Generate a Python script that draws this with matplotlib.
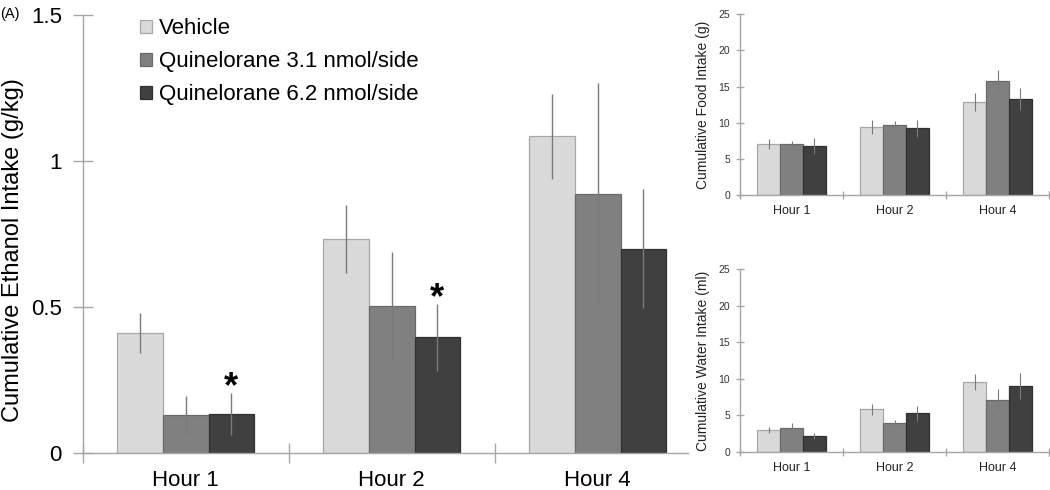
import matplotlib
matplotlib.use("Agg")
import matplotlib.pyplot as plt
from matplotlib.patches import Patch
import numpy as np

plt.rcParams['font.family'] = ['Liberation Sans', 'DejaVu Sans']

groups = ["Hour 1", "Hour 2", "Hour 4"]
series_names = ["Vehicle", "Quinelorane 3.1 nmol/side", "Quinelorane 6.2 nmol/side"]

ethanol_vehicle = [0.41, 0.733, 1.084]
ethanol_vehicle_err = [0.068, 0.117, 0.147]
ethanol_q31 = [0.13, 0.502, 0.886]
ethanol_q31_err = [0.065, 0.187, 0.38]
ethanol_q62 = [0.134, 0.396, 0.70]
ethanol_q62_err = [0.072, 0.114, 0.205]
ethanol_sig_q62 = [True, True, False]

food_vehicle = [7.08, 9.42, 12.87]
food_vehicle_err = [0.69, 0.92, 1.3]
food_q31 = [7.12, 9.65, 15.72]
food_q31_err = [0.4, 0.55, 1.5]
food_q62 = [6.80, 9.24, 13.24]
food_q62_err = [1.08, 1.15, 1.5]

water_vehicle = [3.01, 5.84, 9.58]
water_vehicle_err = [0.45, 0.73, 1.07]
water_q31 = [3.33, 3.97, 7.16]
water_q31_err = [0.6, 0.47, 1.46]
water_q62 = [2.24, 5.29, 9.03]
water_q62_err = [0.4, 1.07, 1.8]

colors = ['#d9d9d9', '#808080', '#404040']
edges = ['#a8a8a8', '#6a6a6a', '#303030']
axcol = '#a6a6a6'
bw = 0.222

fig = plt.figure(figsize=(10.5, 4.9), dpi=100)


def draw_bars(ax, vals, errs, elw):
    x = np.arange(len(groups))
    conts = []
    for i, (v, e) in enumerate(zip(vals, errs)):
        c = ax.bar(x + (i - 1) * bw, v, bw, color=colors[i], edgecolor=edges[i],
                   linewidth=0.9, zorder=2)
        ax.errorbar(x + (i - 1) * bw, v, yerr=e, fmt='none', ecolor='#7a7a7a',
                    elinewidth=elw, capsize=0, zorder=3)
        conts.append(c)
    return conts


def style_axes(ax, ticklen, right_tick):
    for s in ['top', 'right']:
        ax.spines[s].set_visible(False)
    for s in ['left', 'bottom']:
        ax.spines[s].set_color(axcol)
        ax.spines[s].set_linewidth(1.0)
    ax.set_xlim(-0.5, 2.5)
    seps = [-0.5, 0.5, 1.5] + ([2.5] if right_tick else [])
    ax.set_xticks(seps)
    ax.set_xticklabels([''] * len(seps))
    ax.set_xticks(np.arange(len(groups)), minor=True)
    ax.tick_params(axis='x', which='major', direction='inout', length=ticklen,
                   color=axcol, width=1.0)
    ax.tick_params(axis='y', which='major', direction='inout', length=ticklen,
                   color=axcol, width=1.0)


# ---------------- main panel ----------------
ax = fig.add_axes([82.7 / 1050, 1 - 453 / 490, 618 / 1050, 438 / 490])
draw_bars(ax, [ethanol_vehicle, ethanol_q31, ethanol_q62],
          [ethanol_vehicle_err, ethanol_q31_err, ethanol_q62_err], 1.0)
style_axes(ax, 14, False)
ax.spines['bottom'].set_bounds(-0.5, 2.5 - 12.7 / 206)
ax.set_ylim(0, 1.5)
ax.set_yticks([0, 0.5, 1, 1.5])
ax.set_yticklabels(['0', '0.5', '1', '1.5'], fontsize=16)
ax.tick_params(axis='y', pad=8)
ax.set_xticklabels(groups, minor=True, fontsize=16)
ax.tick_params(axis='x', which='minor', length=0, pad=12)
ax.set_ylabel('Cumulative Ethanol Intake (g/kg)', fontsize=17)
ax.yaxis.set_label_coords((24 - 82.7) / 618, (453 - 250) / 438)

x = np.arange(len(groups))
for i, sig in enumerate(ethanol_sig_q62):
    if sig:
        ax.annotate('*', (x[i] + bw, ethanol_q62[i] + ethanol_q62_err[i]),
                    xytext=(0, -9), textcoords='offset points', ha='center',
                    va='bottom', fontsize=26, fontweight='bold')

handles = [Patch(facecolor=colors[i], edgecolor=edges[i], linewidth=0.9)
           for i in range(3)]
ax.legend(handles, series_names, loc='upper left', bbox_to_anchor=(0.0785, 1.013),
          frameon=False, fontsize=16, handlelength=0.55, handleheight=0.55,
          handletextpad=0.3, labelspacing=0.54, borderaxespad=0)

fig.text(0.0, 0.985, '(A)', fontsize=10.5, va='top', ha='left')


# ---------------- inset panels ----------------
def inset(rect, vals, errs, ylabel):
    a = fig.add_axes(rect)
    draw_bars(a, vals, errs, 0.8)
    style_axes(a, 6, True)
    a.set_ylim(0, 25)
    a.set_yticks([0, 5, 10, 15, 20, 25])
    a.set_yticklabels(['0', '5', '10', '15', '20', '25'], fontsize=7.5, color='#333333')
    a.tick_params(axis='y', pad=4)
    a.set_xticklabels(groups, minor=True, fontsize=9, color='#222222')
    a.tick_params(axis='x', which='minor', length=0, pad=7)
    a.set_ylabel(ylabel, fontsize=10, labelpad=6, color='#222222')
    return a


inset([740 / 1050, 1 - 195.3 / 490, 309 / 1050, 181.3 / 490],
      [food_vehicle, food_q31, food_q62],
      [food_vehicle_err, food_q31_err, food_q62_err],
      'Cumulative Food Intake (g)')
inset([740 / 1050, 1 - 452 / 490, 309 / 1050, 182.7 / 490],
      [water_vehicle, water_q31, water_q62],
      [water_vehicle_err, water_q31_err, water_q62_err],
      'Cumulative Water Intake (ml)')

fig.savefig('out.png', dpi=100)
